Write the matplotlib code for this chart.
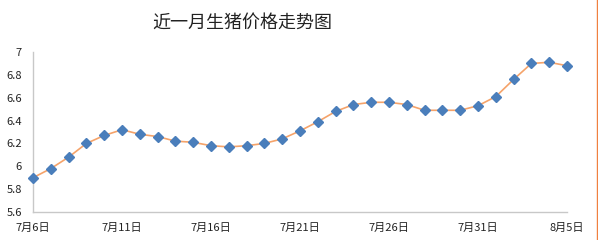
import matplotlib.pyplot as plt
from matplotlib.lines import Line2D

plt.rcParams['font.family'] = ['Noto Sans CJK SC', 'DejaVu Sans']

# daily dates from 7/6 to 8/5
dates = ['7月%d日' % d for d in range(6, 32)] + ['8月%d日' % d for d in range(1, 6)]
prices = [5.90, 5.98, 6.08, 6.20, 6.27, 6.32, 6.28, 6.26, 6.22, 6.21,
          6.18, 6.17, 6.18, 6.20, 6.24, 6.31, 6.39, 6.48, 6.54, 6.56,
          6.56, 6.54, 6.49, 6.49, 6.49, 6.53, 6.61, 6.76, 6.90, 6.91,
          6.88]
yticks = [5.6, 5.8, 6, 6.2, 6.4, 6.6, 6.8, 7]
ytick_labels = ['5.6', '5.8', '6', '6.2', '6.4', '6.6', '6.8', '7']

fig = plt.figure(figsize=(5.98, 2.4), dpi=100)
ax = fig.add_axes([0.0552, 0.1167, 0.8930, 0.6666])

x = list(range(len(prices)))
ax.plot(x, prices, color='#F5A36A', lw=1.2, zorder=2, clip_on=False)
ax.plot(x, prices, ls='none', marker='D', ms=4.6, color='#4A7EBB',
        zorder=3, clip_on=False)

ax.set_xlim(0, len(prices) - 1)
ax.set_ylim(5.6, 7)
ax.set_yticks(yticks)
ax.set_yticklabels(ytick_labels)
ax.set_xticks(x[::5])
ax.set_xticklabels(dates[::5])

ax.tick_params(axis='both', length=0, labelsize=8, colors='#222222')
ax.tick_params(axis='y', pad=8)
ax.tick_params(axis='x', pad=8)

for s in ['top', 'right']:
    ax.spines[s].set_visible(False)
for s in ['left', 'bottom']:
    ax.spines[s].set_color('#C8C8C8')
    ax.spines[s].set_linewidth(1)

fig.text(0.405, 0.905, '近一月生猪价格走势图', fontsize=13, ha='center',
         va='center', color='#222222')

# thin orange frame line on the right edge
fig.add_artist(Line2D([0.998, 0.998], [0, 1], transform=fig.transFigure,
                      color='#F08040', lw=1))

fig.savefig('out.png', dpi=100)
